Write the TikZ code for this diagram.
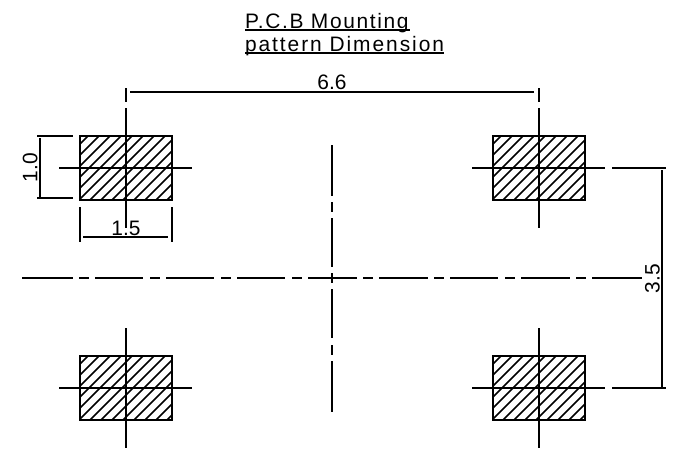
\documentclass[tikz,border=0pt]{standalone}
\usepackage{fontspec}
\setmainfont{Liberation Sans}
\newfontfamily\cadtitleA[LetterSpace=7.8]{Liberation Sans}
\newfontfamily\cadtitleB[LetterSpace=9.3]{Liberation Sans}
\tikzset{
  cad/.style={line width=1.5pt,black,line cap=butt},
  thin cad/.style={line width=1.25pt,black},
  label/.style={inner sep=0pt,outer sep=0pt,font=\fontsize{15.7pt}{15.7pt}\selectfont},
  titletext/.style={inner sep=0pt,outer sep=0pt,anchor=base west}
}
\newcommand{\padshape}[2]{%
  \begin{scope}
    \clip (#1-46,#2-32) rectangle (#1+46,#2+32);
    \foreach \k in {-8,...,8}{
      \draw[thin cad] (#1-47+11*\k,#2+32) -- ++(70,-70);
    }
  \end{scope}
  \draw[cad] (#1-46,#2-32) rectangle (#1+46,#2+32);
  \draw[cad] (#1,#2-60) -- (#1,#2+60);
}
\begin{document}
\begin{tikzpicture}[x=0.75pt,y=-0.75pt]
\useasboundingbox (0,0) rectangle (675,454);
\fill[white] (0,0) rectangle (675,454);
% title
\node[titletext] (t1) at (245,28) {\cadtitleA\fontsize{15.7pt}{15.7pt}\selectfont P.C.B Mounting};
\node[titletext] (t2) at (245,51) {\cadtitleB\fontsize{15.7pt}{15.7pt}\selectfont pattern Dimension};
\coordinate (u1a) at (245,30); \coordinate (u1b) at (410,30);
\coordinate (u2a) at (245,53); \coordinate (u2b) at (444,53);
\draw[cad] (u1a) -- (u1b);
\draw[cad] (u2a) -- (u2b);
% pads
\padshape{126}{168}
\padshape{539}{168}
\padshape{126}{388}
\padshape{539}{388}
% horizontal cross lines
\draw[cad] (59,168) -- (192,168);
\draw[cad] (59,388) -- (192,388);
\draw[cad] (472,168) -- (605,168);
\draw[cad] (612,168) -- (666,168);
\draw[cad] (472,388) -- (605,388);
\draw[cad] (612,388) -- (666,388);
% centre lines
\foreach \a/\b in {22/73,79/89,95/143,150/160,166/214,221/231,237/285,292/302,308/357,363/373,379/428,434/444,450/498,505/515,521/570,576/586,592/642}{
  \draw[cad] (\a,278) -- (\b,278);
}
\foreach \a/\b in {145/196,202/212,218/267,273/283,289/338,345/355,361/412}{
  \draw[cad] (332,\a) -- (332,\b);
}
% dimension 6.6
\draw[cad] (126,88) -- (126,102);
\draw[cad] (539,88) -- (539,102);
\draw[cad] (130,92) -- (534,92);
\node[label,anchor=base] (d66) at (332,89.5) {6.6};
% dimension 1.0
\draw[cad] (37,136) -- (73,136);
\draw[cad] (37,198) -- (73,198);
\draw[cad] (40,138) -- (40,197);
\node[label,anchor=base,rotate=90] (d10) at (37.5,167.5) {1.0};
% dimension 1.5
\draw[cad] (80,207) -- (80,242);
\draw[cad] (172,207) -- (172,242);
\draw[cad] (83,237) -- (168,237);
\node[label,anchor=base] (d15) at (126,235) {1.5};
% dimension 3.5
\draw[cad] (662,170) -- (662,387);
\node[label,anchor=base,rotate=90] (d35) at (659.5,278.5) {3.5};
\end{tikzpicture}
\end{document}
